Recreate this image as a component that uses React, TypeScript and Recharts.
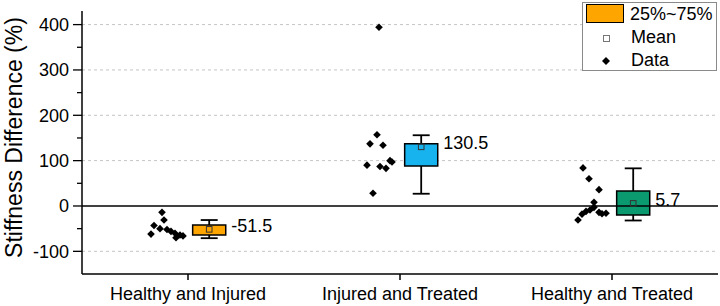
import React from 'react';
import {
  ComposedChart,
  Scatter,
  XAxis,
  YAxis,
  CartesianGrid,
  ReferenceArea,
  ReferenceLine,
} from 'recharts';

const categories = ['Healthy and Injured', 'Injured and Treated', 'Healthy and Treated'];
const boxQ1 = [-64, 88, -20];
const boxQ3 = [-42, 137, 33];
const whiskerLow = [-71, 27, -32];
const whiskerHigh = [-31, 156, 83];
const meanValues = [-51.5, 130.5, 5.7];
const meanLabels = ['-51.5', '130.5', '5.7'];
const boxColors = ['#FFA500', '#17B3EE', '#0B9A70'];

const healthyInjuredValues = [-14, -31, -43, -50, -62, -52, -56, -60, -70, -64, -66];
const healthyInjuredJitter = [-26, -24, -34, -28, -37, -21, -17, -13, -12, -8, -5];
const injuredTreatedValues = [394, 157, 137, 134, 90, 87, 83, 100, 97, 28];
const injuredTreatedJitter = [-21, -23, -30, -17, -33, -20, -14, -10, -8, -27];
const healthyTreatedValues = [84, 60, 36, 8, -31, -18, -12, -9, -3, -14, -17, -16];
const healthyTreatedJitter = [-29, -23, -13, -18, -34, -30, -26, -22, -18, -13, -10, -6];

const yMajorTicks = [-100, 0, 100, 200, 300, 400];
const yMinorTicks = [-50, 50, 150, 250, 350];
const gridValues = [-100, 100, 200, 300, 400];

const PX_PER_UNIT = 212;
const BOX_OFFSET = 0.1;
const BOX_HALF = 0.078;
const CAP_HALF = 0.04;

const groups = [
  { values: healthyInjuredValues, jitter: healthyInjuredJitter },
  { values: injuredTreatedValues, jitter: injuredTreatedJitter },
  { values: healthyTreatedValues, jitter: healthyTreatedJitter },
];

const dataPoints = groups.flatMap((g, i) =>
  g.values.map((v, j) => ({ x: i + 1 + g.jitter[j] / PX_PER_UNIT, y: v }))
);
const meanPoints = meanValues.map((m, i) => ({
  x: i + 1 + BOX_OFFSET,
  y: m,
  label: meanLabels[i],
}));

const yTicks = [...yMajorTicks, ...yMinorTicks].sort((a, b) => a - b);

const YTick = (props: any) => {
  const { x, y, payload } = props;
  const major = payload.value % 100 === 0;
  return (
    <g>
      <line x1={x} x2={x - (major ? 9 : 5)} y1={y} y2={y} stroke="#000" strokeWidth={1.3} />
      {major && (
        <text x={x - 13} y={y} dy="0.35em" textAnchor="end" fontSize={18} fill="#000">
          {payload.value}
        </text>
      )}
    </g>
  );
};

const Diamond = (p: any) => {
  const { cx, cy } = p;
  const r = 3.8;
  return <path d={`M${cx},${cy - r}L${cx + r},${cy}L${cx},${cy + r}L${cx - r},${cy}Z`} fill="#000" />;
};

const MeanShape = (p: any) => {
  const { cx, cy, payload } = p;
  return (
    <g>
      <rect x={cx - 2.8} y={cy - 2.8} width={5.6} height={5.6} fill="none" stroke="#333" strokeWidth={1} />
      <text x={cx + 22} y={cy - 4} dy="0.35em" fontSize={18} fill="#000">
        {payload.label}
      </text>
    </g>
  );
};

const YLabel = (props: any) => {
  const vb = props.viewBox || { x: 0, y: 11, width: 82, height: 263 };
  const cx = vb.x + 14;
  const cy = vb.y + vb.height / 2 - 5;
  return (
    <text
      transform={`translate(${cx},${cy}) rotate(-90)`}
      textAnchor="middle"
      dominantBaseline="central"
      fontSize={23}
      fill="#000"
    >
      Stiffness Difference (%)
    </text>
  );
};

export default function App() {
  return (
    <div
      style={{
        position: 'absolute',
        left: 0,
        top: 0,
        width: 720,
        height: 306,
        background: '#fff',
        fontFamily: 'Arial, "Liberation Sans", sans-serif',
      }}
    >
      <ComposedChart width={720} height={306} margin={{ top: 11, right: 2, left: 0, bottom: 0 }}>
        <CartesianGrid
          vertical={false}
          horizontalValues={gridValues}
          stroke="#c4c4c4"
          strokeDasharray="3 3"
        />
        <XAxis
          dataKey="x"
          type="number"
          domain={[0.5, 3.5]}
          ticks={[1, 2, 3]}
          interval={0}
          allowDataOverflow
          tickFormatter={(v: number) => categories[v - 1]}
          height={32}
          tickSize={6}
          tickMargin={7}
          axisLine={{ stroke: '#000', strokeWidth: 1.5 }}
          tickLine={{ stroke: '#000', strokeWidth: 1.5 }}
          tick={{ fontSize: 18, fill: '#000' }}
        />
        <YAxis
          dataKey="y"
          type="number"
          domain={[-150, 430]}
          ticks={yTicks}
          interval={0}
          allowDataOverflow
          width={82}
          tickSize={0}
          tickMargin={0}
          tickLine={false}
          axisLine={{ stroke: '#000', strokeWidth: 1.5 }}
          tick={<YTick />}
          label={{ content: <YLabel /> } as any}
        />
        {categories.map((c, i) => (
          <ReferenceArea
            key={`box-${c}`}
            x1={i + 1 + BOX_OFFSET - BOX_HALF}
            x2={i + 1 + BOX_OFFSET + BOX_HALF}
            y1={boxQ1[i]}
            y2={boxQ3[i]}
            fill={boxColors[i]}
            fillOpacity={1}
            stroke="#000"
            strokeWidth={1.5}
          />
        ))}
        {categories.map((c, i) => {
          const cx = i + 1 + BOX_OFFSET;
          return [
            <ReferenceLine
              key={`wh-${c}`}
              segment={[{ x: cx, y: boxQ3[i] }, { x: cx, y: whiskerHigh[i] }]}
              stroke="#000"
              strokeWidth={1.8}
            />,
            <ReferenceLine
              key={`wl-${c}`}
              segment={[{ x: cx, y: boxQ1[i] }, { x: cx, y: whiskerLow[i] }]}
              stroke="#000"
              strokeWidth={1.8}
            />,
            <ReferenceLine
              key={`ch-${c}`}
              segment={[{ x: cx - CAP_HALF, y: whiskerHigh[i] }, { x: cx + CAP_HALF, y: whiskerHigh[i] }]}
              stroke="#000"
              strokeWidth={1.8}
            />,
            <ReferenceLine
              key={`cl-${c}`}
              segment={[{ x: cx - CAP_HALF, y: whiskerLow[i] }, { x: cx + CAP_HALF, y: whiskerLow[i] }]}
              stroke="#000"
              strokeWidth={1.8}
            />,
          ];
        })}
        <ReferenceLine y={0} stroke="#000" strokeWidth={1.5} />
        <Scatter data={dataPoints} dataKey="y" shape={<Diamond />} isAnimationActive={false} />
        <Scatter data={meanPoints} dataKey="y" shape={<MeanShape />} isAnimationActive={false} />
      </ComposedChart>
      <div
        style={{
          position: 'absolute',
          left: 582,
          top: 2,
          width: 135,
          height: 69,
          boxSizing: 'border-box',
          border: '1px solid #8a8a8a',
          background: '#fff',
          fontSize: 18,
          color: '#000',
        }}
      >
        <div
          style={{
            position: 'absolute',
            left: 3,
            top: 1,
            width: 38,
            height: 19,
            boxSizing: 'border-box',
            border: '1px solid #000',
            background: boxColors[0],
          }}
        />
        <div style={{ position: 'absolute', left: 47, top: 1, lineHeight: '21px' }}>25%~75%</div>
        <div
          style={{
            position: 'absolute',
            left: 20,
            top: 32,
            width: 5,
            height: 5,
            border: '1px solid #777',
            background: '#fff',
          }}
        />
        <div style={{ position: 'absolute', left: 48, top: 24, lineHeight: '21px' }}>Mean</div>
        <svg style={{ position: 'absolute', left: 18, top: 53 }} width={10} height={10}>
          <path d="M5,1L9,5L5,9L1,5Z" fill="#000" />
        </svg>
        <div style={{ position: 'absolute', left: 48, top: 47, lineHeight: '21px' }}>Data</div>
      </div>
    </div>
  );
}
